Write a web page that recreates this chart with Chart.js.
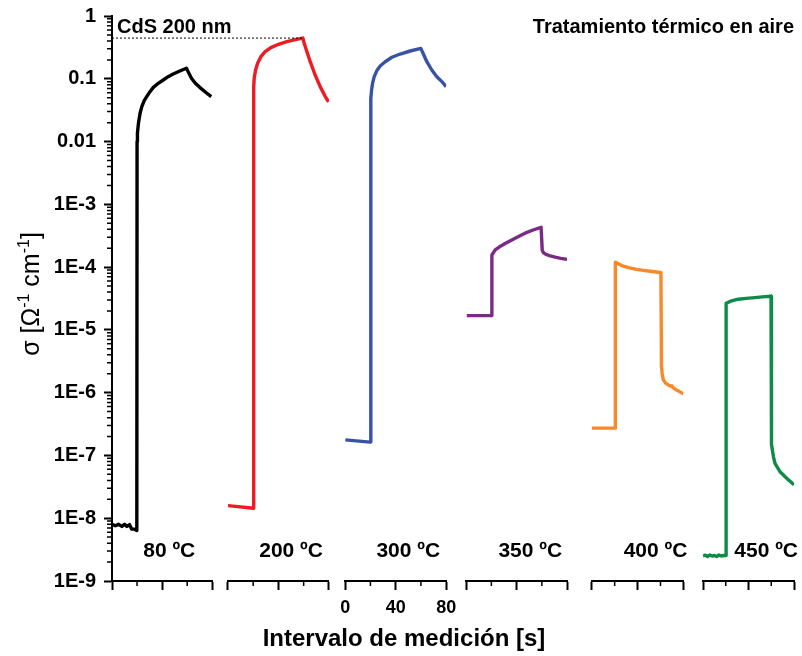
<!DOCTYPE html>
<html>
<head>
<meta charset="utf-8">
<script src="https://cdn.jsdelivr.net/npm/chart.js@4.4.0/dist/chart.umd.min.js"></script>
<style>
  html, body { margin: 0; padding: 0; background: #fff; }
  canvas { display: block; }
</style>
</head>
<body>
<canvas id="chart" width="802" height="656"></canvas>
<script>
// conductivity transients (time in s, sigma in ohm^-1 cm^-1), one run per annealing temperature
const t80 = [0, 2.6, 5.3, 7.9, 10, 11.9, 14, 15.8, 17.9, 19.8, 20.0, 20.3, 21.1, 22.4, 23.8, 25.6, 27.7, 30.3, 33, 36.9, 40.9, 44.8, 48.8, 54.1, 59.4, 60.7, 63.4, 66.5, 70, 74.7, 79.2];
const s80 = [8.0e-9, 7.6e-9, 8.0e-9, 7.4e-9, 8.0e-9, 7.4e-9, 7.9e-9, 6.7e-9, 6.7e-9, 6.4e-9, 0.0100, 0.0136, 0.0195, 0.0282, 0.036, 0.0443, 0.0519, 0.0623, 0.073, 0.0847, 0.0957, 0.108, 0.119, 0.133, 0.147, 0.130, 0.102, 0.085, 0.073, 0.061, 0.052];

const t200 = [0, 20.3, 20.4, 20.8, 21.9, 23.5, 26.1, 29.5, 34, 40.1, 46.7, 53.3, 59.4, 60.4, 62.6, 65.2, 69.1, 73.1, 77.1, 79.7];
const s200 = [1.59e-8, 1.44e-8, 0.073, 0.102, 0.138, 0.177, 0.225, 0.27, 0.313, 0.354, 0.39, 0.42, 0.445, 0.367, 0.27, 0.187, 0.115, 0.075, 0.052, 0.043];

const t300 = [0, 19.8, 20.3, 20.9, 21.7, 23, 25.1, 27.7, 31.7, 37, 43.6, 51.5, 59.9, 61.5, 64.7, 68.6, 72.6, 76.6, 80];
const s300 = [1.77e-7, 1.63e-7, 0.049, 0.066, 0.085, 0.108, 0.135, 0.16, 0.187, 0.22, 0.248, 0.277, 0.305, 0.26, 0.187, 0.138, 0.108, 0.09, 0.075];

const t350 = [0.5, 20.3, 20.4, 23, 25.6, 30.5, 36.2, 41.5, 46.7, 53, 59.4, 60.3, 61.2, 62.6, 66, 70.5, 75, 80];
const s350 = [1.69e-5, 1.69e-5, 1.56e-4, 1.88e-4, 2.05e-4, 2.35e-4, 2.71e-4, 3.08e-4, 3.47e-4, 3.9e-4, 4.31e-4, 1.85e-4, 1.7e-4, 1.62e-4, 1.52e-4, 1.44e-4, 1.38e-4, 1.33e-4];

const t400 = [0, 20.5, 20.6, 26.2, 32, 39, 46.5, 53, 59.7, 60.4, 60.9, 61.5, 62.5, 64.5, 66.9, 69.0, 69.9, 71, 74, 77, 80];
const s400 = [2.72e-7, 2.72e-7, 1.2e-4, 1.06e-4, 9.8e-5, 9.2e-5, 8.8e-5, 8.5e-5, 8.2e-5, 8.1e-5, 2.6e-6, 2.0e-6, 1.6e-6, 1.42e-6, 1.33e-6, 1.27e-6, 1.29e-6, 1.2e-6, 1.1e-6, 1.03e-6, 9.6e-7];

const t450 = [0, 2, 4, 6, 8, 10, 12, 14, 16, 18, 20.2, 20.3, 25, 31, 38, 45.7, 52, 59.8, 60.2, 61.9, 63.3, 67.7, 75, 80];
const s450 = [2.5e-9, 2.58e-9, 2.45e-9, 2.6e-9, 2.5e-9, 2.55e-9, 2.45e-9, 2.6e-9, 2.5e-9, 2.55e-9, 2.55e-9, 2.66e-5, 2.9e-5, 3.08e-5, 3.18e-5, 3.27e-5, 3.35e-5, 3.44e-5, 1.5e-7, 9.6e-8, 7.5e-8, 5.5e-8, 4.1e-8, 3.4e-8];

const runTimes = [t80, t200, t300, t350, t400, t450];
const runSigma = [s80, s200, s300, s350, s400, s450];
const temperatures = ['80 ºC', '200 ºC', '300 ºC', '350 ºC', '400 ºC', '450 ºC'];
const lineColors = ['#000000', '#ed1c24', '#3953a4', '#7b2a86', '#f7892b', '#0f8a47'];

const yTickValues = [1e-9, 1e-8, 1e-7, 1e-6, 1e-5, 1e-4, 1e-3, 0.01, 0.1, 1];
const yTickLabels = ['1E-9', '1E-8', '1E-7', '1E-6', '1E-5', '1E-4', '1E-3', '0.01', '0.1', '1'];
const xTickValues = [0, 40, 80];
const xMinorTicks = [20, 60];

// layout: widths of each time axis and of the gaps between them (stack weights, px)
const panelSpan = [100.3, 101, 101, 101, 91.6, 91];
const panelGap = [15.7, 16.3, 20, 24.7, 19.7];
const labelShift = [-17, -6, -6, -5, 4, 4];

const FONT = "'Liberation Sans', Arial, sans-serif";

const scales = {
  y: {
    type: 'logarithmic',
    position: 'left',
    min: 1e-9,
    max: 1,
    afterBuildTicks: s => { s.ticks = yTickValues.map(v => ({value: v})); },
    afterFit: s => { s.width = 112; s.paddingTop = 0; s.paddingBottom = 0; },
    border: {display: true, color: '#000', width: 2},
    grid: {display: true, drawOnChartArea: false, drawTicks: true, tickLength: 8, tickColor: '#000', tickWidth: 2},
    ticks: {
      color: '#000',
      padding: 8,
      font: {family: FONT, size: 20, weight: 'bold'},
      callback: v => {
        const i = yTickValues.indexOf(v);
        return i < 0 ? '' : yTickLabels[i];
      }
    }
  }
};

panelSpan.forEach((w, i) => {
  scales['x' + i] = {
    type: 'linear',
    axis: 'x',
    position: 'bottom',
    stack: 'time',
    stackWeight: w,
    min: 0,
    max: 80,
    afterBuildTicks: s => { s.ticks = xTickValues.map(v => ({value: v})); },
    afterFit: s => { s.height = 75; s.paddingLeft = 0; s.paddingRight = 0; },
    border: {display: true, color: '#000', width: 2},
    grid: {display: true, drawOnChartArea: false, drawTicks: true, tickLength: 9, tickColor: '#000', tickWidth: 2},
    ticks: {display: i === 2, color: '#000', padding: 7, maxRotation: 0, font: {family: FONT, size: 18, weight: 'bold'}}
  };
  if (i < panelGap.length) {
    scales['g' + i] = {type: 'linear', axis: 'x', position: 'bottom', stack: 'time', stackWeight: panelGap[i], display: false};
  }
});

const datasets = runTimes.map((times, i) => ({
  label: temperatures[i],
  data: times.map((t, k) => ({x: t, y: runSigma[i][k]})),
  xAxisID: 'x' + i,
  yAxisID: 'y',
  borderColor: lineColors[i],
  borderWidth: 3.4,
  borderJoinStyle: 'round',
  pointRadius: 0,
  tension: 0,
  fill: false
}));

// texts, minor ticks and the reference line at the 200 ºC maximum
const decorations = {
  id: 'decorations',
  afterDraw(chart) {
    const ctx = chart.ctx;
    const area = chart.chartArea;
    const ys = chart.scales.y;
    ctx.save();

    ctx.strokeStyle = '#000';
    ctx.lineWidth = 1.5;
    ctx.beginPath();
    for (let e = -9; e < 0; e++) {
      for (let k = 2; k <= 9; k++) {
        const py = ys.getPixelForValue(k * Math.pow(10, e));
        ctx.moveTo(area.left - 5, py);
        ctx.lineTo(area.left, py);
      }
    }
    panelSpan.forEach((w, i) => {
      const xs = chart.scales['x' + i];
      xMinorTicks.forEach(v => {
        const px = xs.getPixelForValue(v);
        ctx.moveTo(px, area.bottom);
        ctx.lineTo(px, area.bottom + 5);
      });
    });
    ctx.stroke();

    // dotted line from the axis to the highest conductivity
    const peak = Math.max(...s200);
    const peakT = t200[s200.indexOf(peak)];
    const py = ys.getPixelForValue(peak);
    ctx.lineWidth = 1;
    ctx.setLineDash([2, 2]);
    ctx.beginPath();
    ctx.moveTo(area.left, py);
    ctx.lineTo(chart.scales.x1.getPixelForValue(peakT), py);
    ctx.stroke();
    ctx.setLineDash([]);

    ctx.fillStyle = '#000';
    ctx.textBaseline = 'alphabetic';
    ctx.font = `bold 21px ${FONT}`;
    ctx.textAlign = 'right';
    temperatures.forEach((txt, i) => {
      const xs = chart.scales['x' + i];
      ctx.fillText(txt, xs.right + labelShift[i], 557);
    });

    ctx.font = `bold 20px ${FONT}`;
    ctx.textAlign = 'left';
    ctx.fillText('CdS 200 nm', 117, 33);
    ctx.textAlign = 'right';
    ctx.fillText('Tratamiento térmico en aire', 794, 33);

    ctx.textAlign = 'center';
    ctx.font = `bold 24px ${FONT}`;
    ctx.fillText('Intervalo de medición [s]', 404, 646);

    // y title with superscripts, rotated
    const parts = [['σ [Ω', false], ['-1', true], [' cm', false], ['-1', true], [']', false]];
    const mainFont = `25px ${FONT}`;
    const supFont = `16px ${FONT}`;
    let total = 0;
    parts.forEach(([s, sup]) => { ctx.font = sup ? supFont : mainFont; total += ctx.measureText(s).width; });
    ctx.translate(39, 294);
    ctx.rotate(-Math.PI / 2);
    ctx.textAlign = 'left';
    let x = -total / 2;
    parts.forEach(([s, sup]) => {
      ctx.font = sup ? supFont : mainFont;
      ctx.fillText(s, x, sup ? -10 : 0);
      x += ctx.measureText(s).width;
    });
    ctx.restore();
  }
};

new Chart(document.getElementById('chart'), {
  type: 'line',
  data: {datasets},
  options: {
    responsive: false,
    animation: false,
    devicePixelRatio: 1,
    layout: {padding: {top: 16, right: 8, left: 0, bottom: 0}},
    plugins: {legend: {display: false}, tooltip: {enabled: false}},
    scales
  },
  plugins: [decorations]
});
</script>
</body>
</html>
